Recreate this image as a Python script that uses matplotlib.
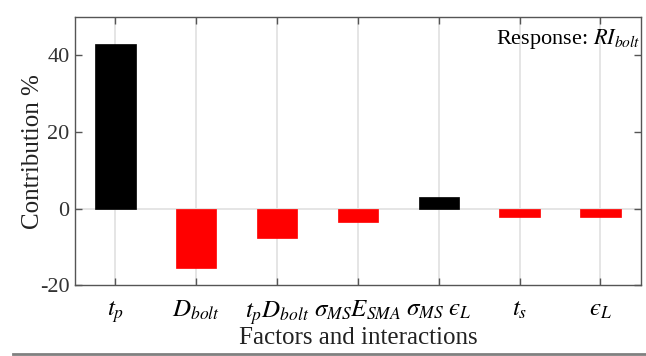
import matplotlib
matplotlib.use("Agg")
import matplotlib.pyplot as plt
from matplotlib.lines import Line2D

plt.rcParams['font.family'] = ['Liberation Serif', 'DejaVu Serif']
plt.rcParams['mathtext.fontset'] = 'stix'
plt.rcParams['axes.unicode_minus'] = False

# factors and their contributions (%)
labels = [r'$t_p$', r'$D_{bolt}$', r'$t_pD_{bolt}$', r'$\sigma_{MS}E_{SMA}$',
          '$\\sigma_{MS}\\ \u03f5_L$', r'$t_s$', '$\u03f5_L$']
contrib = [43.0, -15.4, -7.8, -3.4, 2.9, -2.3, -2.1]
yticks = [-20, 0, 20, 40]

fig = plt.figure(figsize=(6.46, 3.56), dpi=100)
ax = fig.add_axes([0.116, 0.199, 0.876, 0.753])

x = list(range(1, len(contrib) + 1))
cols = ['black' if v > 0 else '#ff0000' for v in contrib]

# grid + baseline
for xi in x:
    ax.axvline(xi, color='#e3e3e3', lw=1.3, zorder=0)
ax.axhline(0, color='#e3e3e3', lw=1.3, zorder=0)

ax.bar(x, contrib, width=0.5, color=cols, edgecolor=cols, lw=0.5, zorder=2)

ax.set_xlim(0.5, 7.5)
ax.set_ylim(-20, 50)
ax.set_xticks(x)
ax.set_xticklabels(labels, fontsize=18)
ax.set_yticks(yticks)
ax.tick_params(axis='y', labelsize=16, labelcolor='#333333')
ax.tick_params(direction='in', length=5, width=1, color='#555555',
               top=True, right=True, pad=4)
ax.tick_params(axis='x', pad=10)
for s in ax.spines.values():
    s.set_color('#555555')
    s.set_linewidth(1.0)

ax.set_ylabel('Contribution %', fontsize=18, labelpad=-3, color='#222222')
ax.set_xlabel('Factors and interactions', fontsize=18, labelpad=0, color='#222222')

ax.text(1.0, 0.92, r'Response: $RI_{bolt}$', transform=ax.transAxes,
        ha='right', va='center', fontsize=16)

fig.add_artist(Line2D([0.02, 1.0], [0.006, 0.006], color='#808080', lw=2,
                      transform=fig.transFigure))

fig.savefig('out.png', dpi=100)
